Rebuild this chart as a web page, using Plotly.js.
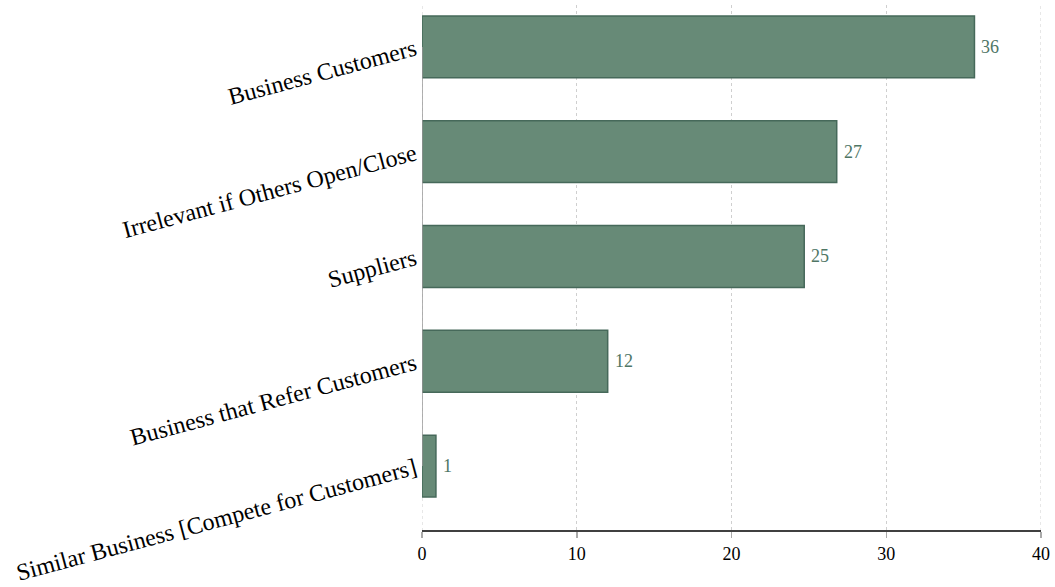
<!DOCTYPE html>
<html>
<head>
<meta charset="utf-8">
<script src="https://cdn.plot.ly/plotly-3.0.1.min.js"></script>
<style>html,body{margin:0;padding:0;background:#fff;}#chart{width:1055px;height:587px;}</style>
</head>
<body>
<div id="chart"></div>
<script>
var categories = ["Business Customers", "Irrelevant if Others Open/Close", "Suppliers", "Business that Refer Customers", "Similar Business [Compete for Customers]"];
var values = [35.7, 26.8, 24.7, 12.0, 0.9];
var xTicks = [0, 10, 20, 30, 40];

var serif = 'Liberation Serif, Times New Roman, serif';

var trace = {
  type: 'bar',
  orientation: 'h',
  y: categories,
  x: values,
  width: 0.59,
  marker: {color: '#678a77', line: {color: '#46695a', width: 1.5}},
  hoverinfo: 'none'
};

var annotations = values.map(function(v, i){
  return {
    x: v, y: categories[i], xref: 'x', yref: 'y',
    text: Math.round(v).toString(), showarrow: false,
    xanchor: 'left', yanchor: 'middle', xshift: 5,
    font: {family: serif, size: 18, color: '#4f7665'}
  };
});

var shapes = [
  {type: 'line', xref: 'x', yref: 'y', x0: 0, x1: 0, y0: 0, y1: 4, line: {color: '#999', width: 1.5}, layer: 'above'}
];
[0, 40].forEach(function(t){
  shapes.push({type: 'line', xref: 'x', yref: 'paper', x0: t, x1: t, y0: 0, y1: 1, line: {color: '#cfcfcf', width: 1, dash: 'dot'}, layer: 'below'});
});
shapes.push({type: 'line', xref: 'x', yref: 'paper', x0: 0, x1: 40, y0: 0, y1: 0, line: {color: '#000', width: 1.5}, layer: 'above'});

var layout = {
  width: 1055, height: 587,
  margin: {l: 422, r: 14, t: 5, b: 56},
  paper_bgcolor: '#fff', plot_bgcolor: '#fff',
  showlegend: false,
  font: {family: serif, color: '#000'},
  xaxis: {
    range: [0, 40], tickvals: xTicks, ticktext: xTicks.map(String),
    showgrid: true, gridcolor: '#cfcfcf', griddash: 'dot', gridwidth: 1,
    zeroline: false, showline: false,
    ticks: 'outside', ticklen: 6, tickcolor: '#aaa', tickwidth: 1.5,
    tickfont: {size: 18, color: '#000'}
  },
  yaxis: {
    type: 'category', categoryorder: 'array', categoryarray: categories,
    range: [4.62, -0.40],
    showgrid: false, zeroline: false, showline: false, ticks: '',
    tickangle: -15, tickfont: {size: 24, color: '#000'}, ticklabelstandoff: 6
  },
  annotations: annotations,
  shapes: shapes
};

Plotly.newPlot('chart', [trace], layout, {displayModeBar: false, staticPlot: true});
</script>
</body>
</html>
